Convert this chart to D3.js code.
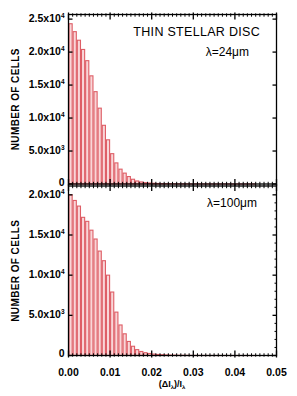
<!DOCTYPE html>
<html>
<head>
<meta charset="utf-8">
<script src="https://cdn.jsdelivr.net/npm/d3@7"></script>
<style>
html,body{margin:0;padding:0;background:#fff;}
svg{display:block;}
text{font-family:"Liberation Sans",Arial,sans-serif;fill:#000;}
</style>
</head>
<body>
<svg id="chart" width="297" height="396"></svg>
<script>
// ---- data ----
const binWidth = 0.001;
const topCounts = [24300, 23100, 21800, 20400, 18700, 16400, 14000, 11500, 8900, 6700, 4600, 3200, 2250, 1650, 1130, 720, 460, 310, 200, 150, 110, 80, 60, 50, 40, 30, 25, 20, 15, 12, 10, 8, 7, 6, 5, 4, 4, 3, 3, 2, 2, 2, 1, 1, 1];
const bottomCounts = [20000, 19300, 18600, 17200, 16700, 15600, 14500, 13000, 11800, 10000, 7900, 5400, 3800, 2700, 1750, 1150, 730, 500, 350, 250, 180, 130, 100, 70, 50, 40, 30, 25, 20, 15, 12, 10, 8, 6, 5, 4, 3, 3, 2, 2, 2, 1, 1, 1, 1];
const xTicks = [0.00, 0.01, 0.02, 0.03, 0.04, 0.05];
const topYTicks = [0, 5000, 10000, 15000, 20000, 25000];
const bottomYTicks = [0, 5000, 10000, 15000, 20000];
const yTickLabels = {0: ["0", ""], 5000: ["5.0x10", "3"], 10000: ["1.0x10", "4"], 15000: ["1.5x10", "4"], 20000: ["2.0x10", "4"], 25000: ["2.5x10", "4"]};
const titleText = "THIN STELLAR DISC";
const panelLabels = ["\u03bb=24\u03bcm", "\u03bb=100\u03bcm"];
const yTitle = "NUMBER OF CELLS";

// ---- layout ----
const svg = d3.select("#chart");
const x = d3.scaleLinear().domain([0, 0.05]).range([68.5, 276.5]);
const panels = [
  {counts: topCounts, y: d3.scaleLinear().domain([0, 25700]).range([184, 14.5]), ticks: topYTicks, minorRight: false, label: panelLabels[0], labelX: 249, labelDy: 41.5},
  {counts: bottomCounts, y: d3.scaleLinear().domain([0, 21100]).range([355.5, 186]), ticks: bottomYTicks, minorRight: true, label: panelLabels[1], labelX: 257, labelDy: 20.5}
];
const minorX = d3.range(0, 51).map(i => i * 0.001);

panels.forEach((p, pi) => {
  const g = svg.append("g");
  const y = p.y;
  const [y0, y1] = y.range();
  // bars
  g.selectAll("rect.bar").data(p.counts).enter().append("rect")
    .attr("class", "bar")
    .attr("x", (d, i) => x(i * binWidth) + 0.5)
    .attr("width", x(binWidth) - x(0) - 1)
    .attr("y", d => y(d))
    .attr("height", d => Math.max(0, y(0) - y(d)))
    .attr("fill", "#f9d6d8")
    .attr("stroke", "#de5e66")
    .attr("stroke-width", 1.1);

  // frame
  g.append("rect").attr("x", x(0)).attr("y", y1).attr("width", x(0.05) - x(0)).attr("height", y0 - y1)
    .attr("fill", "none").attr("stroke", "#000").attr("stroke-width", 1.3);

  // x ticks top & bottom
  minorX.forEach(v => {
    const major = Math.abs(Math.round(v * 100) - v * 100) < 1e-6;
    const lenIn = major ? 5 : 2.2;
    const lenOut = major ? 2 : 1.2;
    g.append("line").attr("x1", x(v)).attr("x2", x(v)).attr("y1", y0 + lenOut).attr("y2", y0 - lenIn)
      .attr("stroke", "#000").attr("stroke-width", major ? 1.3 : 1);
    g.append("line").attr("x1", x(v)).attr("x2", x(v)).attr("y1", y1 - lenOut).attr("y2", y1 + lenIn)
      .attr("stroke", "#000").attr("stroke-width", major ? 1.3 : 1);
  });

  // y major ticks (left & right)
  p.ticks.forEach(t => {
    g.append("line").attr("x1", x(0)).attr("x2", x(0) + 4).attr("y1", y(t)).attr("y2", y(t)).attr("stroke", "#000").attr("stroke-width", 1.3);
    g.append("line").attr("x1", x(0.05)).attr("x2", x(0.05) - 4).attr("y1", y(t)).attr("y2", y(t)).attr("stroke", "#000").attr("stroke-width", 1.3);
  });
  if (p.minorRight) {
    d3.range(0, 21000, 1000).forEach(t => {
      if (t % 5000 === 0) return;
      g.append("line").attr("x1", x(0.05)).attr("x2", x(0.05) - 2).attr("y1", y(t)).attr("y2", y(t)).attr("stroke", "#000").attr("stroke-width", 1);
    });
  }

  // y tick labels
  p.ticks.forEach(t => {
    const lab = yTickLabels[t];
    const tx = g.append("text").attr("x", 64.5).attr("y", y(t) + (t === 0 ? 1.5 : 2.8))
      .attr("text-anchor", "end").attr("font-size", 10.5).attr("font-weight", "bold");
    if (lab[1]) {
      tx.append("tspan").text(lab[0]);
      tx.append("tspan").attr("dy", -4).attr("font-size", 6.5).text(lab[1]);
    } else {
      tx.text(lab[0]);
    }
  });

  // y title
  const cy = (y0 + y1) / 2;
  g.append("text").attr("transform", `translate(18.5,${cy}) rotate(-90)`)
    .attr("text-anchor", "middle").attr("font-size", 10).attr("font-weight", "bold")
    .attr("letter-spacing", 0.4).text(yTitle);

  // panel label
  g.append("text").attr("x", p.labelX).attr("y", y1 + p.labelDy)
    .attr("text-anchor", "end").attr("font-size", 12).text(p.label);
});

// title
svg.append("text").attr("x", 260).attr("y", 36).attr("text-anchor", "end").attr("font-size", 12.5)
  .attr("letter-spacing", 0.3).text(titleText);

// x tick labels (bottom panel)
xTicks.forEach(v => {
  svg.append("text").attr("x", x(v)).attr("y", 375.5).attr("text-anchor", "middle")
    .attr("font-size", 10.5).attr("font-weight", "bold").text(v.toFixed(2));
});
// x title
const xt = svg.append("text").attr("x", 172).attr("y", 387).attr("text-anchor", "middle").attr("font-size", 9).attr("font-weight", "bold");
xt.append("tspan").text("(\u0394I");
xt.append("tspan").attr("dy", 2).attr("font-size", 6).text("\u03bb");
xt.append("tspan").attr("dy", -2).text(")/I");
xt.append("tspan").attr("dy", 2).attr("font-size", 6).text("\u03bb");
</script>
</body>
</html>
